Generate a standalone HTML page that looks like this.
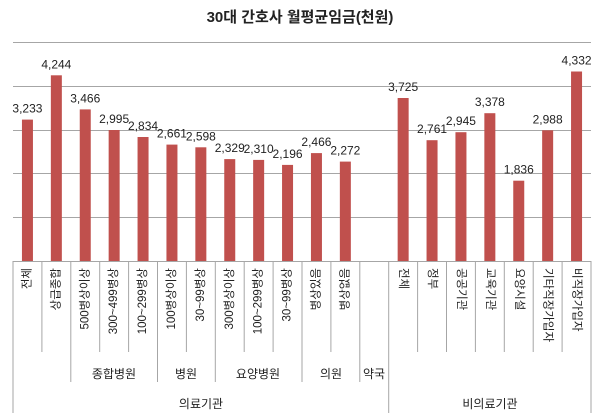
<!DOCTYPE html>
<html><head><meta charset="utf-8"><style>
html,body{margin:0;padding:0;background:#fff;}
svg{display:block;font-family:"Liberation Sans","Noto Sans CJK KR",sans-serif;}
</style></head><body>
<svg width="600" height="418" viewBox="0 0 600 418" xmlns="http://www.w3.org/2000/svg">
<text x="300" y="22" text-anchor="middle" font-size="15" font-weight="bold" fill="#222">30대 간호사 월평균임금(천원)</text>
<g stroke="#a6a6a6" stroke-width="1">
<line x1="13" y1="42.5" x2="591" y2="42.5"/>
<line x1="13" y1="86.5" x2="591" y2="86.5"/>
<line x1="13" y1="130.5" x2="591" y2="130.5"/>
<line x1="13" y1="173.5" x2="591" y2="173.5"/>
<line x1="13" y1="217.5" x2="591" y2="217.5"/>
</g>
<g fill="#c0504d">
<rect x="21.95" y="119.6" width="11" height="141.4"/>
<rect x="50.85" y="75.3" width="11" height="185.7"/>
<rect x="79.75" y="109.4" width="11" height="151.6"/>
<rect x="108.65" y="130" width="11" height="131"/>
<rect x="137.55" y="137" width="11" height="124"/>
<rect x="166.45" y="144.6" width="11" height="116.4"/>
<rect x="195.35" y="147.3" width="11" height="113.7"/>
<rect x="224.25" y="159.1" width="11" height="101.9"/>
<rect x="253.15" y="159.9" width="11" height="101.1"/>
<rect x="282.05" y="164.9" width="11" height="96.1"/>
<rect x="310.95" y="153.1" width="11" height="107.9"/>
<rect x="339.85" y="161.6" width="11" height="99.4"/>
<rect x="397.65" y="98" width="11" height="163"/>
<rect x="426.55" y="140.2" width="11" height="120.8"/>
<rect x="455.45" y="132.2" width="11" height="128.8"/>
<rect x="484.35" y="113.2" width="11" height="147.8"/>
<rect x="513.25" y="180.7" width="11" height="80.3"/>
<rect x="542.15" y="130.3" width="11" height="130.7"/>
<rect x="571.05" y="71.5" width="11" height="189.5"/>
</g>
<g font-size="12" fill="#222" text-anchor="middle">
<text x="27.45" y="112.6">3,233</text>
<text x="56.35" y="68.3">4,244</text>
<text x="85.25" y="102.4">3,466</text>
<text x="114.15" y="123">2,995</text>
<text x="143.05" y="130">2,834</text>
<text x="171.95" y="137.6">2,661</text>
<text x="200.85" y="140.3">2,598</text>
<text x="229.75" y="152.1">2,329</text>
<text x="258.65" y="152.9">2,310</text>
<text x="287.55" y="157.9">2,196</text>
<text x="316.45" y="146.1">2,466</text>
<text x="345.35" y="154.6">2,272</text>
<text x="403.15" y="91">3,725</text>
<text x="432.05" y="133.2">2,761</text>
<text x="460.95" y="125.2">2,945</text>
<text x="489.85" y="106.2">3,378</text>
<text x="518.75" y="173.7">1,836</text>
<text x="547.65" y="123.3">2,988</text>
<text x="576.55" y="64.5">4,332</text>
</g>
<g stroke="#a6a6a6" stroke-width="1">
<line x1="13" y1="261.5" x2="591" y2="261.5"/>
<line x1="13" y1="261" x2="13" y2="413"/>
<line x1="41.9" y1="261" x2="41.9" y2="352"/>
<line x1="70.8" y1="261" x2="70.8" y2="382"/>
<line x1="99.7" y1="261" x2="99.7" y2="352"/>
<line x1="128.6" y1="261" x2="128.6" y2="352"/>
<line x1="157.5" y1="261" x2="157.5" y2="382"/>
<line x1="186.4" y1="261" x2="186.4" y2="352"/>
<line x1="215.3" y1="261" x2="215.3" y2="382"/>
<line x1="244.2" y1="261" x2="244.2" y2="352"/>
<line x1="273.1" y1="261" x2="273.1" y2="352"/>
<line x1="302" y1="261" x2="302" y2="382"/>
<line x1="330.9" y1="261" x2="330.9" y2="352"/>
<line x1="359.8" y1="261" x2="359.8" y2="382"/>
<line x1="388.7" y1="261" x2="388.7" y2="413"/>
<line x1="417.6" y1="261" x2="417.6" y2="352"/>
<line x1="446.5" y1="261" x2="446.5" y2="352"/>
<line x1="475.4" y1="261" x2="475.4" y2="352"/>
<line x1="504.3" y1="261" x2="504.3" y2="352"/>
<line x1="533.2" y1="261" x2="533.2" y2="352"/>
<line x1="562.1" y1="261" x2="562.1" y2="352"/>
<line x1="591" y1="261" x2="591" y2="413"/>
</g>
<g font-size="11.5" fill="#222" text-anchor="end" dominant-baseline="central">
<text transform="translate(27.45,268) rotate(-90)">전체</text>
<text transform="translate(56.35,268) rotate(-90)">상급종합</text>
<text transform="translate(85.25,268) rotate(-90)">500병상이상</text>
<text transform="translate(114.15,268) rotate(-90)">300~499병상</text>
<text transform="translate(143.05,268) rotate(-90)">100~299병상</text>
<text transform="translate(171.95,268) rotate(-90)">100병상이상</text>
<text transform="translate(200.85,268) rotate(-90)">30~99병상</text>
<text transform="translate(229.75,268) rotate(-90)">300병상이상</text>
<text transform="translate(258.65,268) rotate(-90)">100~299병상</text>
<text transform="translate(287.55,268) rotate(-90)">30~99병상</text>
<text transform="translate(316.45,268) rotate(-90)">병상있음</text>
<text transform="translate(345.35,268) rotate(-90)">병상없음</text>
</g>
<g font-size="11.5" fill="#222" text-anchor="start" dominant-baseline="central">
<text transform="translate(403.15,268) rotate(90)">전체</text>
<text transform="translate(432.05,268) rotate(90)">정부</text>
<text transform="translate(460.95,268) rotate(90)">공공기관</text>
<text transform="translate(489.85,268) rotate(90)">교육기관</text>
<text transform="translate(518.75,268) rotate(90)">요양시설</text>
<text transform="translate(547.65,268) rotate(90)">기타직장가입자</text>
<text transform="translate(576.55,268) rotate(90)">비직장가입자</text>
</g>
<g font-size="12" fill="#222" text-anchor="middle">
<text x="114" y="378">종합병원</text>
<text x="186" y="378">병원</text>
<text x="258" y="378">요양병원</text>
<text x="331" y="378">의원</text>
<text x="374" y="378">약국</text>
<text x="201" y="408">의료기관</text>
<text x="490" y="408">비의료기관</text>
</g>
</svg>
</body></html>
